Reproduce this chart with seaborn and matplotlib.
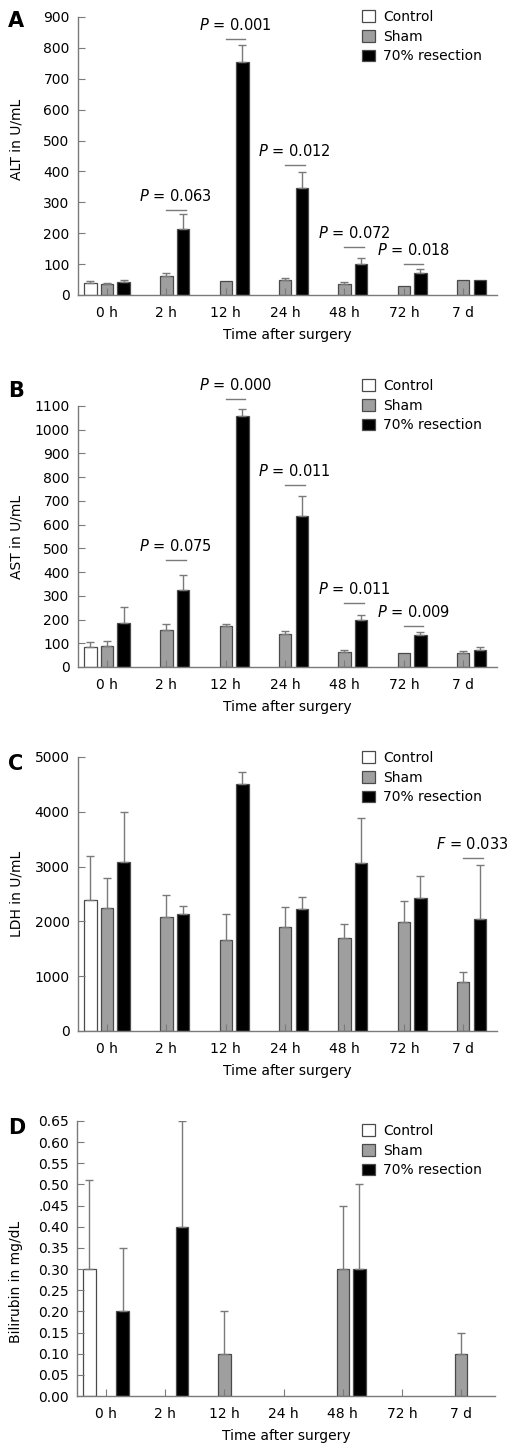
import numpy as np
import pandas as pd
import seaborn as sns
import matplotlib.pyplot as plt

times = ["0 h", "2 h", "12 h", "24 h", "48 h", "72 h", "7 d"]
groups = ["Control", "Sham", "70% resection"]
nan = np.nan

# ALT (U/mL): mean and upper SD
alt_control = [38, nan, nan, nan, nan, nan, nan]
alt_control_sd = [7, nan, nan, nan, nan, nan, nan]
alt_sham = [35, 62, 44, 49, 35, 28, 47]
alt_sham_sd = [5, 9, 0, 6, 6, 0, 0]
alt_resect = [41, 213, 755, 345, 100, 72, 47]
alt_resect_sd = [8, 48, 53, 53, 19, 11, 0]
alt_p_times = ["2 h", "12 h", "24 h", "48 h", "72 h"]
alt_p_y = [275, 830, 420, 156, 100]
alt_p_txt = ["0.063", "0.001", "0.012", "0.072", "0.018"]

# AST (U/mL)
ast_control = [86, nan, nan, nan, nan, nan, nan]
ast_control_sd = [18, nan, nan, nan, nan, nan, nan]
ast_sham = [88, 157, 173, 140, 63, 58, 58]
ast_sham_sd = [23, 24, 7, 13, 10, 0, 9]
ast_resect = [187, 326, 1059, 636, 197, 133, 73]
ast_resect_sd = [67, 63, 27, 84, 21, 16, 11]
ast_p_times = ["2 h", "12 h", "24 h", "48 h", "72 h"]
ast_p_y = [450, 1131, 765, 269, 171]
ast_p_txt = ["0.075", "0.000", "0.011", "0.011", "0.009"]

# LDH (U/mL)
ldh_control = [2390, nan, nan, nan, nan, nan, nan]
ldh_control_sd = [800, nan, nan, nan, nan, nan, nan]
ldh_sham = [2244, 2085, 1659, 1896, 1695, 1982, 902]
ldh_sham_sd = [549, 403, 481, 360, 262, 396, 183]
ldh_resect = [3091, 2140, 4500, 2220, 3067, 2427, 2043]
ldh_resect_sd = [909, 147, 226, 231, 817, 408, 987]
ldh_p_times = ["7 d"]
ldh_p_y = [3165]
ldh_p_txt = ["0.033"]

# Bilirubin (mg/dL)
bil_control = [0.30, nan, nan, nan, nan, nan, nan]
bil_control_sd = [0.21, nan, nan, nan, nan, nan, nan]
bil_sham = [nan, nan, 0.10, nan, 0.30, nan, 0.10]
bil_sham_sd = [nan, nan, 0.10, nan, 0.15, nan, 0.05]
bil_resect = [0.20, 0.40, nan, nan, 0.30, nan, nan]
bil_resect_sd = [0.15, 0.25, nan, nan, 0.20, nan, nan]
bil_yticklabels = ["0.00", "0.05", "0.10", "0.15", "0.20", "0.25", "0.30",
                   "0.35", "0.40", ".045", "0.50", "0.55", "0.60", "0.65"]

palette = {"Control": "white", "Sham": "#9f9f9f", "70% resection": "black"}
grey = "#7a7a7a"

plt.rcParams["font.family"] = "DejaVu Sans"
plt.rcParams["font.size"] = 10
plt.rcParams["mathtext.fontset"] = "dejavusans"


def make_df(ctrl, ctrl_sd, sham, sham_sd, res, res_sd):
    rows = []
    for vals, sds, g in [(ctrl, ctrl_sd, "Control"), (sham, sham_sd, "Sham"), (res, res_sd, "70% resection")]:
        for t, v, s in zip(times, vals, sds):
            rows.append({"time": t, "group": g, "value": v, "sd": s})
    return pd.DataFrame(rows)


def panel(ax, df, ylim, yticks, ylabel, letter, letter_y, leg_y, ylab_y=0.5,
          p_times=(), p_y=(), p_txt=(), p_sym="P"):
    sns.barplot(data=df, x="time", y="value", hue="group", order=times,
                hue_order=groups, palette=palette, width=0.84, gap=0.25,
                edgecolor="#4a4a4a", linewidth=0.9, errorbar=None, ax=ax)
    # one-sided error bars, placed on the bars seaborn drew
    centres = {}
    for bar in ax.patches:
        h = bar.get_height()
        if np.isnan(h) or bar.get_width() == 0:
            continue
        cx = bar.get_x() + bar.get_width() / 2
        i = int(round(cx))
        off = cx - i
        g = groups[0] if off < -0.1 else (groups[2] if off > 0.1 else groups[1])
        centres[(times[i], g)] = cx
        sd = df[(df.time == times[i]) & (df.group == g)].sd.iloc[0]
        if not np.isnan(sd) and sd > 0:
            ax.errorbar(cx, h, yerr=[[0], [sd]], fmt="none", ecolor=grey,
                        elinewidth=1, capsize=3, capthick=1, zorder=3)
    for t, y, txt in zip(p_times, p_y, p_txt):
        x0 = centres[(t, "Sham")]
        x1 = centres[(t, "70% resection")]
        ax.plot([x0, x1 + 0.05], [y, y], color=grey, lw=1, clip_on=False)
        ax.annotate(r"$\it{%s}$ = %s" % (p_sym, txt), xy=((x0 + x1) / 2 + 0.02, y),
                    xytext=(0, 6.5), textcoords="offset points", ha="center",
                    va="baseline", fontsize=10.5, annotation_clip=False)
    ax.set_xlim(-0.49, 6.57)
    ax.set_ylim(*ylim)
    ax.set_yticks(yticks)
    ax.set_xlabel("Time after surgery", labelpad=6)
    ax.set_ylabel(ylabel)
    ax.yaxis.set_label_coords(-0.13, ylab_y)
    sns.despine(ax=ax)
    for s in ["left", "bottom"]:
        ax.spines[s].set_color(grey)
        ax.spines[s].set_linewidth(1)
    ax.tick_params(axis="x", direction="in", length=5, color=grey, pad=8, labelsize=10)
    ax.tick_params(axis="y", direction="in", length=5, color=grey, pad=6, labelsize=10)
    sns.move_legend(ax, "upper left", bbox_to_anchor=(362 / 518, leg_y),
                    bbox_transform=ax.figure.transFigure, frameon=False, title=None,
                    borderpad=0, borderaxespad=0, handlelength=0.9, handleheight=0.9,
                    handletextpad=0.6, labelspacing=0.4, fontsize=10)
    ax.figure.text(8 / 518, letter_y, letter, fontsize=15, fontweight="bold", va="top")


fig = plt.figure(figsize=(5.18, 14.56), dpi=100)
H = 1456
left, width = 78 / 518, 419 / 518

axA = fig.add_axes([left, 1 - 295 / H, width, 278 / H])
panel(axA, make_df(alt_control, alt_control_sd, alt_sham, alt_sham_sd, alt_resect, alt_resect_sd),
      (0, 900), range(0, 901, 100), "ALT in U/mL", "A", 1 - 11 / H, 1 - 10 / H, ylab_y=0.56,
      p_times=alt_p_times, p_y=alt_p_y, p_txt=alt_p_txt)

axB = fig.add_axes([left, 1 - 667 / H, width, 261 / H])
panel(axB, make_df(ast_control, ast_control_sd, ast_sham, ast_sham_sd, ast_resect, ast_resect_sd),
      (0, 1100), range(0, 1101, 100), "AST in U/mL", "B", 1 - 381 / H, 1 - 379 / H,
      p_times=ast_p_times, p_y=ast_p_y, p_txt=ast_p_txt)

axC = fig.add_axes([left, 1 - 1031 / H, width, 274 / H])
panel(axC, make_df(ldh_control, ldh_control_sd, ldh_sham, ldh_sham_sd, ldh_resect, ldh_resect_sd),
      (0, 5000), range(0, 5001, 1000), "LDH in U/mL", "C", 1 - 754 / H, 1 - 751 / H,
      p_times=ldh_p_times, p_y=ldh_p_y, p_txt=ldh_p_txt, p_sym="F")

axD = fig.add_axes([77 / 518, 1 - 1396 / H, 418 / 518, 275 / H])
panel(axD, make_df(bil_control, bil_control_sd, bil_sham, bil_sham_sd, bil_resect, bil_resect_sd),
      (0, 0.65), np.arange(14) * 0.05, "Bilirubin in mg/dL", "D", 1 - 1118 / H, 1 - 1124 / H,
      ylab_y=0.415)
axD.set_yticklabels(bil_yticklabels)

fig.savefig("out.png", dpi=100)
